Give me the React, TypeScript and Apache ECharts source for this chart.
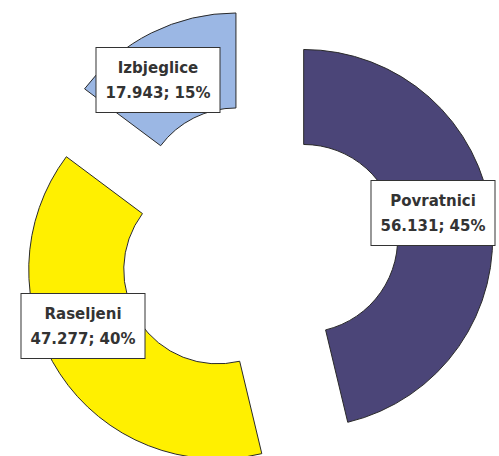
import React, { useEffect, useRef } from "react";
import * as echarts from "echarts";

const categories = ["Povratnici", "Raseljeni", "Izbjeglice"];
const values = [56131, 47277, 17943];
const valueLabels = ["56.131", "47.277", "17.943"];
const percentLabels = ["45%", "40%", "15%"];
const colors = ["#4B4578", "#FFF000", "#9BB7E4"];
const labelCenters = [
  [433, 213],
  [83, 326],
  [158, 80],
];

export default function App() {
  const ref = useRef<HTMLDivElement>(null);
  useEffect(() => {
    if (!ref.current) return;
    const chart = echarts.init(ref.current, null, { renderer: "svg" });
    chart.setOption({
      animation: false,
      backgroundColor: "#ffffff",
      series: [
        {
          type: "pie",
          center: [257, 244],
          radius: [94, 189],
          startAngle: 90,
          clockwise: true,
          selectedMode: "multiple",
          selectedOffset: 47,
          avoidLabelOverlap: false,
          emphasis: { disabled: true },
          itemStyle: { borderColor: "#2a2a2a", borderWidth: 1 },
          labelLine: { show: false },
          label: { show: false },
          data: categories.map((c, i) => ({
            name: c,
            value: values[i],
            selected: true,
            itemStyle: { color: colors[i] },
          })),
        },
      ],
      graphic: categories.map((c, i) => ({
        type: "text",
        x: labelCenters[i][0],
        y: labelCenters[i][1],
        z: 100,
        style: {
          text: `${c}\n${valueLabels[i]}; ${percentLabels[i]}`,
          fontFamily: "DejaVu Sans",
          fontWeight: "bold",
          fontSize: 15,
          lineHeight: 25,
          fill: "#333333",
          align: "center",
          verticalAlign: "middle",
          backgroundColor: "#ffffff",
          borderColor: "#333333",
          borderWidth: 1,
          padding: [7, 9, 7, 9],
        },
      })),
    });
    return () => chart.dispose();
  }, []);
  return (
    <div
      ref={ref}
      style={{ position: "fixed", left: 0, top: 0, width: 499, height: 456 }}
    />
  );
}
